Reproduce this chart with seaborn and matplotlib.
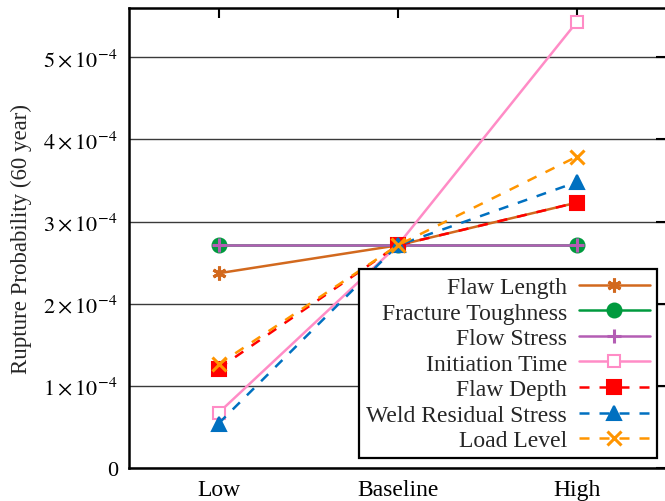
import pandas as pd
import seaborn as sns
import matplotlib.pyplot as plt
from matplotlib.ticker import FixedLocator, FuncFormatter

# data (rupture probability, 60 year)
cases = ["Low", "Baseline", "High"]
flaw_length = [2.37e-4, 2.71e-4, 3.23e-4]
fracture_toughness = [2.71e-4, 2.71e-4, 2.71e-4]
flow_stress = [2.71e-4, 2.71e-4, 2.71e-4]
initiation_time = [0.67e-4, 2.71e-4, 5.43e-4]
flaw_depth = [1.21e-4, 2.71e-4, 3.23e-4]
weld_residual_stress = [0.54e-4, 2.71e-4, 3.48e-4]
load_level = [1.26e-4, 2.71e-4, 3.79e-4]

names = ["Flaw Length", "Fracture Toughness", "Flow Stress", "Initiation Time",
         "Flaw Depth", "Weld Residual Stress", "Load Level"]
values = [flaw_length, fracture_toughness, flow_stress, initiation_time,
          flaw_depth, weld_residual_stress, load_level]

# style per series: colour, marker, dashed?, hollow?
styles = {
    "Flaw Length": ("#d2691e", (6, 2, 0), False, False),
    "Fracture Toughness": ("#009a3e", "o", False, False),
    "Flow Stress": ("#b45db4", "+", False, False),
    "Initiation Time": ("#ff8cc6", "s", False, True),
    "Flaw Depth": ("#ff0000", "s", True, False),
    "Weld Residual Stress": ("#0070c0", "^", True, False),
    "Load Level": ("#ff9500", "x", True, False),
}

sns.set_style("white")
plt.rcParams["font.family"] = ["Liberation Serif", "DejaVu Serif"]
plt.rcParams["mathtext.fontset"] = "stix"

fig = plt.figure(figsize=(6.65, 5.02), dpi=100)
ax = fig.add_axes([0.194, 0.066, 0.808, 0.916])

for name, vals in zip(names, values):
    df = pd.DataFrame({"case": cases, "prob": vals})
    color, marker, dashed, hollow = styles[name]
    kw = dict(color=color, marker=marker, linewidth=1.8, markersize=10,
              markeredgewidth=2.2 if marker in ("+", "x", (6, 2, 0)) else 1.5,
              markeredgecolor=color)
    if hollow:
        kw["markerfacecolor"] = "white"
        kw["markersize"] = 9
    if dashed:
        kw["dashes"] = (4, 4)
    sns.lineplot(data=df, x="case", y="prob", ax=ax, sort=False, label=name, **kw)

ax.set_xlim(-0.5, 2.5)
ax.set_ylim(0, 5.6e-4)
ax.yaxis.set_major_locator(FixedLocator([0, 1e-4, 2e-4, 3e-4, 4e-4, 5e-4]))


def sci(v, pos):
    if v == 0:
        return "0"
    return r"$%d\times10^{-4}$" % round(v / 1e-4)


ax.yaxis.set_major_formatter(FuncFormatter(sci))
ax.grid(axis="y", color="#3a3a3a", linewidth=1.0)
ax.set_axisbelow(True)

for s in ax.spines.values():
    s.set_visible(True)
    s.set_color("black")
    s.set_linewidth(1.8)

ax.tick_params(direction="in", length=7, width=1.5, top=True, right=True,
               colors="black", pad=8)
ax.tick_params(axis="x", labelsize=17)
ax.tick_params(axis="y", labelsize=16)
ax.set_xlabel("")
ax.set_ylabel("Rupture Probability (60 year)", fontsize=16.5, labelpad=8)

leg = ax.legend(loc="lower right", markerfirst=False, fontsize=17,
                handlelength=3, labelspacing=0.17, borderaxespad=0.4,
                fancybox=False, framealpha=1, edgecolor="black",
                borderpad=0.3, handletextpad=0.5)
leg.get_frame().set_linewidth(1.6)

fig.savefig("out.png", dpi=100)
